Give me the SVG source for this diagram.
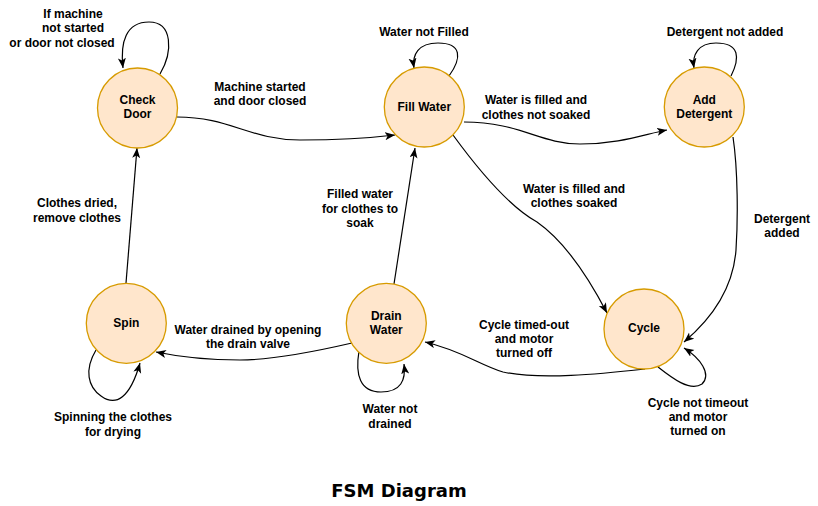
<svg xmlns="http://www.w3.org/2000/svg" width="818" height="506" viewBox="0 0 818 506">
<defs>
<marker id="arr" markerUnits="userSpaceOnUse" markerWidth="11" markerHeight="9" refX="10" refY="4" orient="auto">
<path d="M0,0 L10,4 L0,8 L2.5,4 Z" fill="#000"/>
</marker>
<style>
.node circle{fill:#ffe6cc;stroke:#d79b00;stroke-width:1.3}
.node text{font-family:"Liberation Sans",Arial,sans-serif;font-weight:bold;font-size:12px;fill:#000;text-anchor:middle}
.edges path{fill:none;stroke:#000;stroke-width:1.2;marker-end:url(#arr)}
.lbl text{font-family:"Liberation Sans",Arial,sans-serif;font-weight:bold;font-size:12px;fill:#000;text-anchor:middle}
.title{font-family:"DejaVu Sans",Verdana,sans-serif;font-weight:bold;font-size:18px;fill:#000;text-anchor:middle}
</style>
</defs>
<rect width="818" height="506" fill="#fff"/>
<g class="edges" id="connectors">
<path d="M160,74 C173,52 173,22 149,22 C126,22 120,42 123,68"/>
<path d="M177,117 C230,117 250,140 300,140 C340,140 370,138 395,135"/>
<path d="M449,76 C462,58 462,43 438,43 C418,43 412,55 414,68"/>
<path d="M464,122 C520,122 540,144 580,144 C620,144 645,134 667,130"/>
<path d="M731,76 C740,58 740,43 716,43 C698,43 692,55 694,68"/>
<path d="M733,137 C738,170 738,220 736,250 C733,290 710,320 684,342"/>
<path d="M453,135 C480,172 510,207 537,222 C570,245 595,290 607,313"/>
<path d="M658,367 C672,378 690,392 702,384 C712,374 700,358 684,348"/>
<path d="M645,369 C600,374 540,380 503,372 C480,365 460,350 425,342"/>
<path d="M359,351 C355,375 360,392 381,392 C401,392 406,380 404,364"/>
<path d="M352,343 C300,355 260,360 240,360 C210,360 180,357 156,352"/>
<path d="M96,350 C84,370 88,387 101,396 C116,407 130,398 140,363"/>
<path d="M394,284 L415,148"/>
<path d="M126,283 L137,148"/>
</g>
<g class="lbl" id="labels">
<text x="73" y="18">If machine</text>
<text x="73" y="32">not started</text>
<text x="62" y="47">or door not closed</text>
<text x="260" y="91">Machine started</text>
<text x="260" y="105">and door closed</text>
<text x="424" y="36">Water not Filled</text>
<text x="536" y="104">Water is filled and</text>
<text x="536" y="119">clothes not soaked</text>
<text x="725" y="36">Detergent not added</text>
<text x="782" y="223">Detergent</text>
<text x="782" y="237">added</text>
<text x="574" y="193">Water is filled and</text>
<text x="574" y="207">clothes soaked</text>
<text x="698" y="407">Cycle not timeout</text>
<text x="698" y="421">and motor</text>
<text x="698" y="435">turned on</text>
<text x="524" y="329">Cycle timed-out</text>
<text x="524" y="343">and motor</text>
<text x="524" y="357">turned off</text>
<text x="390" y="413">Water not</text>
<text x="390" y="428">drained</text>
<text x="248" y="334">Water drained by opening</text>
<text x="248" y="348">the drain valve</text>
<text x="113" y="421">Spinning the clothes</text>
<text x="113" y="436">for drying</text>
<text x="360" y="198">Filled water</text>
<text x="360" y="213">for clothes to</text>
<text x="360" y="227">soak</text>
<text x="77" y="207">Clothes dried,</text>
<text x="77" y="222">remove clothes</text>
</g>
<g class="node" id="check-door"><circle cx="137.5" cy="108" r="40"/><text x="137.5" y="104">Check</text><text x="137.5" y="118">Door</text></g>
<g class="node" id="fill-water"><circle cx="424.3" cy="107" r="40"/><text x="424.3" y="111">Fill Water</text></g>
<g class="node" id="add-detergent"><circle cx="704.3" cy="107" r="40"/><text x="704.3" y="104">Add</text><text x="704.3" y="118">Detergent</text></g>
<g class="node" id="spin"><circle cx="126.3" cy="323.3" r="40"/><text x="126.3" y="327">Spin</text></g>
<g class="node" id="drain-water"><circle cx="386.3" cy="323.3" r="40"/><text x="386.3" y="320">Drain</text><text x="386.3" y="334">Water</text></g>
<g class="node" id="cycle"><circle cx="644" cy="329" r="40"/><text x="644" y="332">Cycle</text></g>
<text class="title" x="399" y="497">FSM Diagram</text>
</svg>
